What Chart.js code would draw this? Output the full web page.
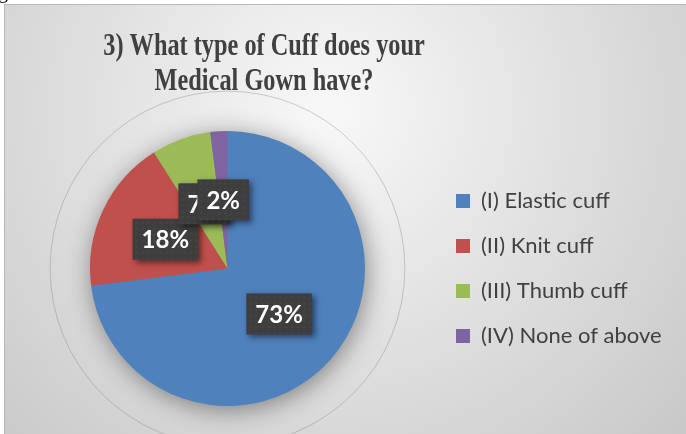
<!DOCTYPE html>
<html><head><meta charset="utf-8">
<script src="https://cdn.jsdelivr.net/npm/chart.js@4.4.1/dist/chart.umd.min.js"></script>
<style>
html,body{margin:0;padding:0;background:#fff;overflow:hidden;}
#wrap{position:relative;width:686px;height:434px;overflow:hidden;}
canvas{position:absolute;left:0;top:0;}
#frag{position:absolute;left:-2px;top:-19px;font:20px "Liberation Serif";color:#000;line-height:20px;}
</style></head><body>
<div id="wrap"><canvas id="c" width="686" height="434"></canvas><span id="frag">g</span></div>
<script>
// ---- data ----
const titleLines = ['3) What type of Cuff does your', 'Medical Gown have?'];
const categories = ['(I) Elastic cuff', '(II) Knit cuff', '(III) Thumb cuff', '(IV) None of above'];
const percentages = [73, 18, 7, 2];
const sliceColors = ['#4f81bd', '#c0504d', '#9bbb59', '#8064a2'];

// ---- layout helpers ----
const W = 686, H = 434;
const legendFontSize = 22, legendPad = 23, legendBox = 14;
const mctx = document.createElement('canvas').getContext('2d');
mctx.font = legendFontSize + 'px Lato';
const maxText = Math.max(...categories.map(t => mctx.measureText(t).width));
const legendItemX = 456;
const legendLeft = legendItemX - legendPad;
const legendWidth = legendPad + legendBox + legendFontSize / 2 + maxText + 10;
const padRight = W - legendLeft - legendWidth;
const pieCx = 227.5;
const padLeft = 2 * pieCx - legendLeft;

const framePlugin = {
  id: 'frame',
  beforeDraw(chart) {
    const ctx = chart.ctx;
    ctx.save();
    const g = ctx.createRadialGradient(330, 110, 10, 330, 110, 520);
    g.addColorStop(0, '#f7f7f7');
    g.addColorStop(1, '#c4c4c4');
    ctx.fillStyle = g;
    ctx.fillRect(4, 4, W - 4, H - 4);
    ctx.strokeStyle = '#b8b8b8';
    ctx.lineWidth = 1;
    ctx.beginPath();
    ctx.moveTo(4.5, H); ctx.lineTo(4.5, 4.5); ctx.lineTo(W, 4.5);
    ctx.stroke();
    // title
    ctx.fillStyle = '#404040';
    ctx.font = 'bold 32px "Liberation Serif"';
    ctx.textAlign = 'center';
    ctx.textBaseline = 'alphabetic';
    const baselines = [55, 90];
    titleLines.forEach((t, i) => {
      ctx.save();
      ctx.translate(264, baselines[i]);
      ctx.scale(0.76, 1);
      ctx.fillText(t, 0, 0);
      ctx.restore();
    });
    ctx.restore();
  },
  beforeDatasetsDraw(chart) {
    const ctx = chart.ctx;
    const arc = chart.getDatasetMeta(0).data[0];
    if (!arc) return;
    const {x, y, outerRadius} = arc.getProps(['x', 'y', 'outerRadius'], true);
    ctx.save();
    // faint outer ring
    ctx.strokeStyle = 'rgba(120,120,120,0.35)';
    ctx.lineWidth = 1;
    ctx.beginPath();
    ctx.arc(x, y, outerRadius * 1.29, 0, Math.PI * 2);
    ctx.stroke();
    // soft halo under the pie
    ctx.shadowColor = 'rgba(0,0,0,0.45)';
    ctx.shadowBlur = 26;
    ctx.shadowOffsetX = 2;
    ctx.shadowOffsetY = 4;
    ctx.fillStyle = '#777';
    ctx.beginPath();
    ctx.arc(x, y, outerRadius - 1, 0, Math.PI * 2);
    ctx.fill();
    ctx.restore();
  },
  afterDatasetsDraw(chart) {
    const ctx = chart.ctx;
    const meta = chart.getDatasetMeta(0);
    meta.data.forEach((arc, i) => {
      const p = arc.tooltipPosition(true);
      const txt = percentages[i] + '%';
      ctx.save();
      ctx.font = 'bold 24px Lato';
      const w = ctx.measureText(txt).width + 18;
      const h = 41;
      ctx.shadowColor = 'rgba(0,0,0,0.5)';
      ctx.shadowBlur = 6;
      ctx.shadowOffsetX = 3;
      ctx.shadowOffsetY = 3;
      ctx.fillStyle = '#3e3e3e';
      ctx.fillRect(p.x - w / 2, p.y - h / 2, w, h);
      ctx.shadowColor = 'transparent';
      ctx.fillStyle = '#474747';
      for (let yy = p.y - h / 2 + 3; yy < p.y + h / 2 - 1; yy += 6) {
        for (let xx = p.x - w / 2 + 3; xx < p.x + w / 2 - 1; xx += 6) {
          ctx.fillRect(xx, yy, 2, 2);
        }
      }
      ctx.fillStyle = '#ffffff';
      ctx.textAlign = 'center';
      ctx.textBaseline = 'middle';
      ctx.fillText(txt, p.x, p.y + 1);
      ctx.restore();
    });
  }
};

new Chart(document.getElementById('c'), {
  type: 'pie',
  data: {
    labels: categories,
    datasets: [{
      data: percentages,
      backgroundColor: sliceColors,
      borderWidth: 0,
      hoverOffset: 0
    }]
  },
  options: {
    responsive: false,
    animation: false,
    events: [],
    layout: { padding: { top: 131, bottom: 28, left: padLeft, right: padRight } },
    plugins: {
      title: { display: false },
      tooltip: { enabled: false },
      legend: {
        display: true,
        position: 'right',
        fullSize: false,
        align: 'center',
        labels: {
          boxWidth: legendBox,
          boxHeight: legendBox,
          padding: legendPad,
          color: '#404040',
          font: { family: 'Lato', size: legendFontSize }
        }
      }
    }
  },
  plugins: [framePlugin]
});
</script>
</body></html>
